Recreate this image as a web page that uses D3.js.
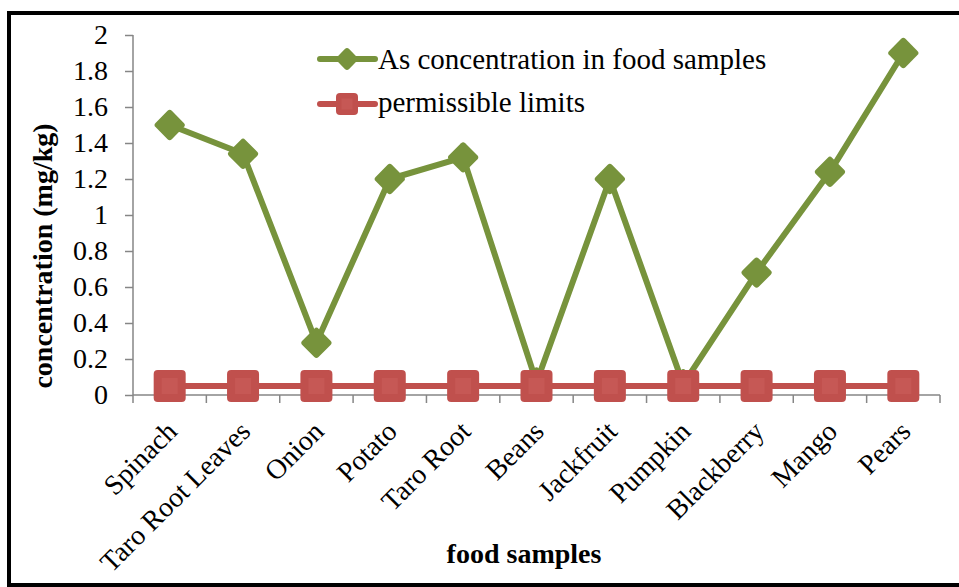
<!DOCTYPE html>
<html><head><meta charset="utf-8">
<script src="https://cdn.jsdelivr.net/npm/d3@7"></script>
<style>body{margin:0;background:#fff}svg{display:block}svg text{font-family:'Liberation Serif','Times New Roman',serif}</style>
</head><body>
<svg id="c" width="959" height="587"></svg>
<script>
const categories = ["Spinach","Taro Root Leaves","Onion","Potato","Taro Root","Beans","Jackfruit","Pumpkin","Blackberry","Mango","Pears"];
const asConcentration = [1.5,1.34,0.29,1.2,1.32,0.07,1.2,0.06,0.68,1.24,1.9];
const permissibleLimits = [0.05,0.05,0.05,0.05,0.05,0.05,0.05,0.05,0.05,0.05,0.05];
const yTicks = [0,0.2,0.4,0.6,0.8,1,1.2,1.4,1.6,1.8,2];
const seriesNames = ["As concentration in food samples","permissible limits"];

const svg = d3.select("#c");
const font = "'Liberation Serif','Times New Roman',serif";
const green = "#77933C", red = "#C0504D", axisCol = "#868686";

// frame
svg.append("rect").attr("x",9).attr("y",13).attr("width",960).attr("height",572)
  .attr("fill","none").attr("stroke","#000").attr("stroke-width",4);

const x = d3.scaleBand().domain(categories).range([133,940]);
const y = d3.scaleLinear().domain([0,2]).range([395,35]);

// y axis
const ya = svg.append("g").attr("transform","translate(133,0)")
  .call(d3.axisLeft(y).tickValues(yTicks).tickSize(8).tickPadding(17).tickFormat(d=>d3.format("")(d)));
ya.attr("font-family",null).attr("font-size",null);
ya.selectAll("path,line").attr("stroke",axisCol).attr("stroke-width",1.5);
ya.select(".domain").attr("d","M0,35V395");
ya.selectAll("text").style("font-family",font).style("font-size","28px").attr("fill","#000");

// x axis
const xa = svg.append("g").attr("transform","translate(0,395)");
xa.append("line").attr("x1",133).attr("x2",940).attr("stroke",axisCol).attr("stroke-width",1.5);
const bounds = categories.map(c=>x(c)).concat([940]);
xa.selectAll("line.t").data(bounds).enter().append("line")
  .attr("x1",d=>d).attr("x2",d=>d).attr("y1",0).attr("y2",8)
  .attr("stroke",axisCol).attr("stroke-width",1.5);
xa.selectAll("text").data(categories).enter().append("text")
  .attr("transform",d=>`translate(${x(d)+x.bandwidth()/2+9},${38}) rotate(-45)`)
  .attr("text-anchor","end").style("font-family",font).style("font-size","28px")
  .text(d=>d);

// titles
svg.append("text").attr("transform","translate(52,256) rotate(-90)")
  .attr("text-anchor","middle").style("font-family",font).style("font-size","28px")
  .attr("font-weight","bold").text("concentration  (mg/kg)");
svg.append("text").attr("x",524).attr("y",563).attr("text-anchor","middle")
  .style("font-family",font).style("font-size","28px").attr("font-weight","bold").text("food samples");

const cx = d=>x(d)+x.bandwidth()/2;
const line = d3.line().x(d=>cx(d[0])).y(d=>y(d[1]));

function diamond(g, px, py, s){
  g.append("rect").attr("x",px-s/2).attr("y",py-s/2).attr("width",s).attr("height",s)
   .attr("rx",3).attr("fill",green).attr("transform",`rotate(45,${px},${py})`);
}
function square(g, px, py, s){
  g.append("rect").attr("x",px-s/2).attr("y",py-s/2).attr("width",s).attr("height",s)
   .attr("rx",4).attr("fill",red);
  g.append("rect").attr("x",px-s/4).attr("y",py-s/4).attr("width",s/2).attr("height",s/2)
   .attr("fill","#C65855");
}

// green series
const gd = categories.map((c,i)=>[c,asConcentration[i]]);
svg.append("path").attr("d",line(gd)).attr("fill","none").attr("stroke",green)
  .attr("stroke-width",6).attr("stroke-linejoin","round");
const gm = svg.append("g");
gd.forEach(d=>diamond(gm,cx(d[0]),y(d[1]),23));

// red series
const rd = categories.map((c,i)=>[c,permissibleLimits[i]]);
svg.append("path").attr("d",line(rd)).attr("fill","none").attr("stroke",red)
  .attr("stroke-width",6);
const rm = svg.append("g");
rd.forEach(d=>square(rm,cx(d[0]),y(d[1]),32));

// legend
const lg = svg.append("g");
lg.append("line").attr("x1",320).attr("x2",375).attr("y1",59).attr("y2",59)
  .attr("stroke",green).attr("stroke-width",6).attr("stroke-linecap","round");
diamond(lg,347,59,17);
lg.append("text").attr("x",378).attr("y",69).style("font-family",font).style("font-size","29px").text(seriesNames[0]);
lg.append("line").attr("x1",320).attr("x2",375).attr("y1",104).attr("y2",104)
  .attr("stroke",red).attr("stroke-width",6).attr("stroke-linecap","round");
square(lg,347,104,22);
lg.append("text").attr("x",378).attr("y",112).style("font-family",font).style("font-size","29px").text(seriesNames[1]);
</script>
</body></html>
